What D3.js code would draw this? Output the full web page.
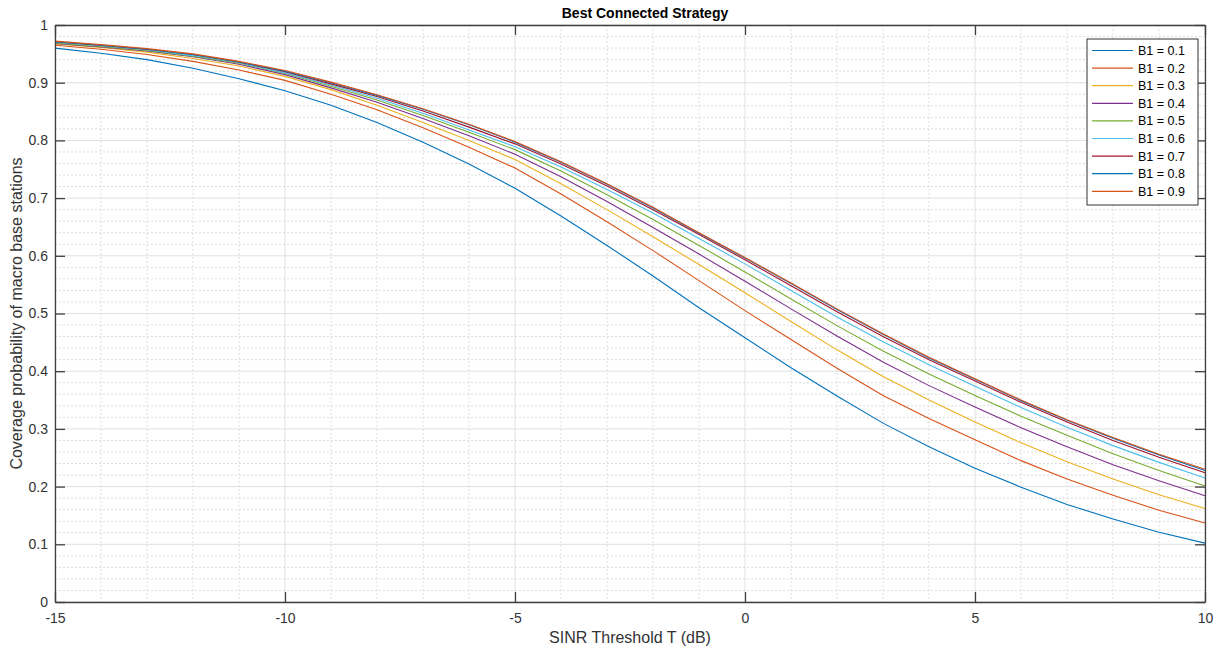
<!DOCTYPE html>
<html><head><meta charset="utf-8">
<script src="https://cdn.jsdelivr.net/npm/d3@7"></script>
<style>body{margin:0;background:#fff;}svg{display:block;font-family:"Liberation Sans",Arial,sans-serif;}</style>
</head><body><svg id="c" width="1231" height="655"></svg>
<script>
const xValues = d3.range(-15, 11, 1);
const seriesNames = ["B1 = 0.1","B1 = 0.2","B1 = 0.3","B1 = 0.4","B1 = 0.5","B1 = 0.6","B1 = 0.7","B1 = 0.8","B1 = 0.9"];
const b01 = [0.960,0.951,0.940,0.925,0.907,0.886,0.861,0.831,0.797,0.759,0.717,0.669,0.618,0.565,0.510,0.458,0.406,0.357,0.310,0.269,0.232,0.199,0.169,0.144,0.121,0.102];
const b02 = [0.965,0.958,0.949,0.937,0.922,0.904,0.880,0.853,0.822,0.788,0.752,0.707,0.659,0.609,0.557,0.505,0.455,0.405,0.358,0.318,0.281,0.245,0.213,0.185,0.159,0.137];
const b03 = [0.967,0.961,0.953,0.942,0.929,0.911,0.888,0.861,0.831,0.800,0.767,0.725,0.680,0.633,0.585,0.536,0.486,0.437,0.391,0.350,0.312,0.276,0.243,0.213,0.186,0.162];
const b04 = [0.968,0.962,0.955,0.945,0.932,0.914,0.891,0.866,0.838,0.808,0.776,0.737,0.694,0.649,0.603,0.556,0.508,0.461,0.416,0.375,0.338,0.302,0.269,0.238,0.210,0.184];
const b05 = [0.969,0.963,0.956,0.946,0.934,0.916,0.894,0.870,0.843,0.814,0.784,0.747,0.706,0.663,0.618,0.572,0.525,0.479,0.435,0.395,0.358,0.322,0.289,0.257,0.228,0.201];
const b06 = [0.970,0.964,0.957,0.947,0.935,0.917,0.896,0.873,0.847,0.818,0.789,0.754,0.715,0.674,0.630,0.586,0.540,0.494,0.451,0.411,0.374,0.337,0.303,0.271,0.242,0.215];
const b07 = [0.971,0.965,0.958,0.949,0.936,0.919,0.898,0.876,0.851,0.823,0.794,0.759,0.721,0.680,0.637,0.593,0.548,0.503,0.460,0.420,0.383,0.346,0.312,0.280,0.251,0.224];
const b08 = [0.971,0.965,0.958,0.949,0.936,0.920,0.900,0.878,0.854,0.827,0.797,0.762,0.724,0.683,0.639,0.596,0.552,0.507,0.464,0.423,0.386,0.349,0.315,0.284,0.255,0.228];
const b09 = [0.972,0.966,0.959,0.950,0.937,0.921,0.901,0.879,0.855,0.828,0.798,0.763,0.725,0.684,0.640,0.597,0.553,0.508,0.465,0.424,0.387,0.350,0.316,0.285,0.256,0.230];
const allSeries = [b01,b02,b03,b04,b05,b06,b07,b08,b09];
const colors = ["#0072BD","#D95319","#EDB120","#7E2F8E","#77AC30","#4DBEEE","#A2142F","#0072BD","#D95319"];
const xTicks = [-15,-10,-5,0,5,10];
const xTickLabels = ["-15","-10","-5","0","5","10"];
const yTicks = [0,0.1,0.2,0.3,0.4,0.5,0.6,0.7,0.8,0.9,1];
const yTickLabels = ["0","0.1","0.2","0.3","0.4","0.5","0.6","0.7","0.8","0.9","1"];

const svg = d3.select("#c");
const L = 55, R = 1205, T = 25, B = 602;
const x = d3.scaleLinear().domain([-15, 10]).range([L, R]);
const y = d3.scaleLinear().domain([0, 1]).range([B, T]);

// minor grid
const g = svg.append("g");
g.selectAll(".mx").data(d3.range(-15, 11, 1).filter(v => v % 5 !== 0)).join("line")
  .attr("x1", d => x(d)).attr("x2", d => x(d)).attr("y1", T).attr("y2", B)
  .attr("stroke", "#dcdcdc").attr("stroke-width", 1).attr("stroke-dasharray", "2,2");
g.selectAll(".my").data(d3.range(0, 50, 1).filter(v => v % 5 !== 0).map(v => v * 0.02)).join("line")
  .attr("y1", d => y(d)).attr("y2", d => y(d)).attr("x1", L).attr("x2", R)
  .attr("stroke", "#dcdcdc").attr("stroke-width", 1).attr("stroke-dasharray", "2,2");
// major grid
g.selectAll(".Mx").data(xTicks).join("line")
  .attr("x1", d => x(d)).attr("x2", d => x(d)).attr("y1", T).attr("y2", B)
  .attr("stroke", "#e0e0e0").attr("stroke-width", 1);
g.selectAll(".My").data(yTicks).join("line")
  .attr("y1", d => y(d)).attr("y2", d => y(d)).attr("x1", L).attr("x2", R)
  .attr("stroke", "#e0e0e0").attr("stroke-width", 1);

// lines
const line = d3.line().x((d, i) => x(xValues[i])).y(d => y(d));
svg.append("g").selectAll("path").data(allSeries).join("path")
  .attr("d", d => line(d)).attr("fill", "none")
  .attr("stroke", (d, i) => colors[i]).attr("stroke-width", 1.1);

// axes
const axCol = "#404040";
const tl = 10;
const xb = svg.append("g").attr("transform", `translate(0,${B})`)
  .call(d3.axisBottom(x).tickValues(xTicks).tickSizeInner(-tl).tickSizeOuter(0).tickPadding(11).tickFormat((d, i) => xTickLabels[i]));
const xt = svg.append("g").attr("transform", `translate(0,${T})`)
  .call(d3.axisTop(x).tickValues(xTicks).tickSizeInner(-tl).tickSizeOuter(0).tickFormat(""));
const yl = svg.append("g").attr("transform", `translate(${L},0)`)
  .call(d3.axisLeft(y).tickValues(yTicks).tickSizeInner(-tl).tickSizeOuter(0).tickPadding(7).tickFormat((d, i) => yTickLabels[i]));
const yr = svg.append("g").attr("transform", `translate(${R},0)`)
  .call(d3.axisRight(y).tickValues(yTicks).tickSizeInner(-tl).tickSizeOuter(0).tickFormat(""));
[xb, xt, yl, yr].forEach(a => {
  a.select(".domain").attr("stroke", axCol).attr("stroke-width", 1.3);
  a.selectAll(".tick line").attr("stroke", axCol).attr("stroke-width", 1.3);
  a.selectAll("text").attr("fill", "#333").style("font-size", "14px").style("font-family", '"Liberation Sans",Arial,sans-serif');
});

// title and labels
svg.append("text").attr("x", 645).attr("y", 18).attr("text-anchor", "middle")
  .style("font-size", "14px").style("font-weight", "bold").attr("fill", "#000").text("Best Connected Strategy");
svg.append("text").attr("x", (L + R) / 2).attr("y", 643).attr("text-anchor", "middle")
  .style("font-size", "16px").attr("fill", "#333").text("SINR Threshold T (dB)");
svg.append("text").attr("transform", `translate(22,${(T + B) / 2}) rotate(-90)`).attr("text-anchor", "middle")
  .style("font-size", "16px").attr("fill", "#333").text("Coverage probability of macro base stations");

// legend
const lg = svg.append("g");
const lx = 1087, ly = 39, lw = 111, lh = 166;
lg.append("rect").attr("x", lx).attr("y", ly).attr("width", lw).attr("height", lh)
  .attr("fill", "#fff").attr("stroke", "#333").attr("stroke-width", 1);
const rowH = 17.6;
seriesNames.forEach((n, i) => {
  const yy = ly + 11.5 + i * rowH;
  lg.append("line").attr("x1", lx + 5).attr("x2", lx + 46).attr("y1", yy).attr("y2", yy)
    .attr("stroke", colors[i]).attr("stroke-width", 1.2);
  lg.append("text").attr("x", lx + 51).attr("y", yy + 4.5).style("font-size", "12.5px").attr("fill", "#000").text(n);
});
</script></body></html>
